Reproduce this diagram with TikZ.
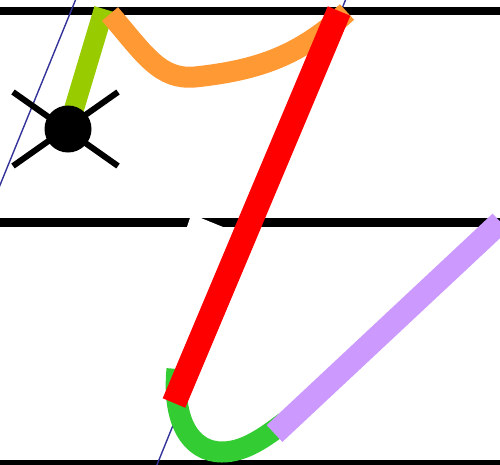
\documentclass[tikz,border=0pt]{standalone}
\definecolor{yg}{HTML}{99CC00}
\definecolor{org}{HTML}{FF9933}
\definecolor{grn}{HTML}{33CC33}
\definecolor{prp}{HTML}{CC99FF}
\definecolor{blu}{HTML}{333399}
\tikzset{
  rule/.style={line width=8.4pt, black},
  guide/.style={line width=1.4pt, blu},
  stroke/.style={line width=#1, line cap=butt},
}
\begin{document}
\begin{tikzpicture}[x=1pt,y=-1pt]
\useasboundingbox (0,0) rectangle (500,464);
\fill[white] (0,0) rectangle (500,464);
% rules
\draw[rule] (0,11) -- (500,11);
\draw[rule] (0,222.5) -- (500,222.5);
\draw[rule] (0,464) -- (500,464);
% guides
\draw[guide] (75.5,0) -- (-2,190);
\draw[guide] (345.5,0) -- (156.5,466);
% white notch
\fill[white] (186.3,229) -- (190.6,216) -- (196,216) -- (223.5,227.2) -- (223.5,229) -- cycle;
% cross and circle
\draw[line width=6pt] (13,92) -- (118,166);
\draw[line width=6pt] (13,166) -- (118,92);
\draw[stroke=20pt, yg] (104,9) -- (68,129);
\fill (68,129) circle (23.5);
% orange curve
\draw[stroke=21pt, org] (110,14) .. controls (145,55) and (160,80) .. (195,77)
  .. controls (260,70) and (300,55) .. (347,12);
% green curve
\draw[stroke=21pt, grn] (177,369) .. controls (172,420) and (190,452) .. (222,452)
  .. controls (245,452) and (265,437) .. (285,422);
% red
\draw[stroke=24.5pt, red] (339,11) -- (174,403);
% purple
\draw[stroke=23pt, prp] (274.5,433.5) -- (500.5,222);
\end{tikzpicture}
\end{document}
